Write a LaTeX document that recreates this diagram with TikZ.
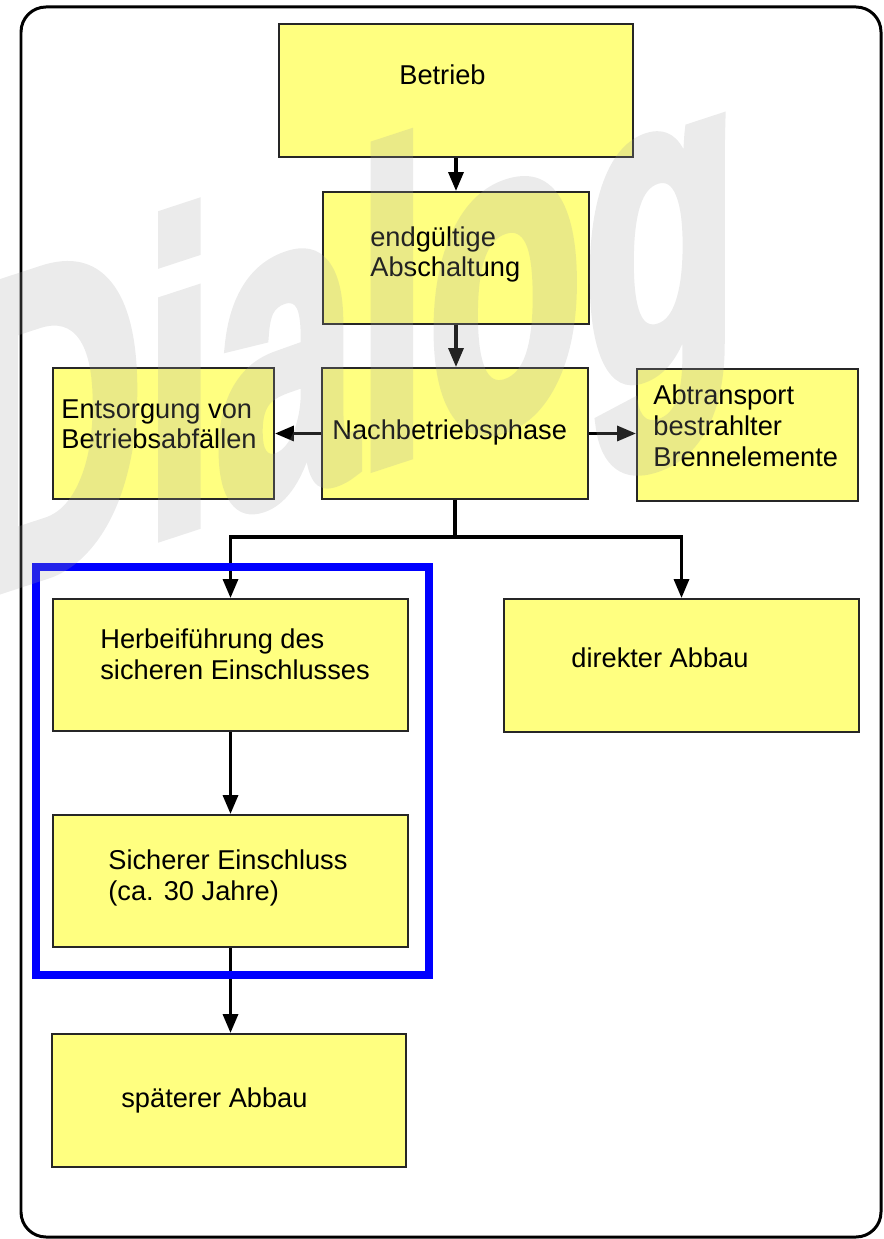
\documentclass[tikz,border=0pt]{standalone}
\usepackage{fontspec}
\setmainfont{Liberation Sans}
\newfontfamily\wasserfont{Liberation Sans Bold}[FakeBold=3]
\usetikzlibrary{arrows.meta,fit}
\definecolor{boxyellow}{RGB}{255,255,128}
\definecolor{rahmenblau}{RGB}{0,0,255}

\begin{document}
\begin{tikzpicture}[x=0.02cm,y=-0.02cm,
  box/.style={draw=black!85, line width=1.1pt, fill=boxyellow, inner sep=0pt},
  lbl/.style={anchor=base west, align=left, inner sep=0pt, font=\fontsize{15.5}{17.6}\selectfont},
  pfeil/.style={line width=1.9pt, -{Triangle[length=0.38cm,width=0.3cm]}}]
\useasboundingbox (0,0) rectangle (884,1239);
\clip (0,0) rectangle (884,1239);
\draw[line width=1.7pt, rounded corners=0.5cm] (21,7) rectangle (881,1237);

\node[box, fit={(279,24) (633,157)}] (betrieb) {};
\node[box, fit={(323,192) (589,324)}] (abschalt) {};
\node[box, fit={(322,368) (588,499)}] (nach) {};
\node[box, fit={(53,368) (274,499)}] (entsorg) {};
\node[box, fit={(637,369) (858,501)}] (abtrans) {};
\node[box, fit={(53,599) (408,731)}] (herbei) {};
\node[box, fit={(504,599) (859,732)}] (direkt) {};
\node[box, fit={(53,815) (408,947)}] (einschl) {};
\node[box, fit={(52,1034) (406,1167)}] (spaet) {};

% Texte (Grundlinie der letzten Zeile)
\node[lbl] at (399,85) {Betrieb};
\node[lbl] at (370,277) {endgültige\\Abschaltung};
\node[lbl] at (332,439) {Nachbetriebsphase};
\node[lbl] at (61,449) {Entsorgung von\\Betriebsabfällen};
\node[lbl] at (653,466) {Abtransport\\bestrahlter\\Brennelemente};
\node[lbl] at (100,679) {Herbeiführung des\\sicheren Einschlusses};
\node[lbl] at (571,667) {direkter Abbau};
\node[lbl] at (108,900) {Sicherer Einschluss\\(ca. 30 Jahre)};
\node[lbl] at (121,1107) {späterer Abbau};

\draw[pfeil] (betrieb) -- (abschalt);
\draw[pfeil] (abschalt.south) -- (abschalt.south |- nach.north);
\draw[pfeil] (nach.west) -- (entsorg.east);
\draw[pfeil] (nach.east) -- (nach.east -| abtrans.west);
\coordinate (gabel) at (455,537);
\draw[line width=1.9pt] (nach.south) -- (gabel);
\draw[pfeil] (gabel) -| (herbei.north);
\draw[pfeil] (gabel) -| (direkt.north);
\draw[pfeil] (herbei) -- (einschl);
\draw[pfeil] (einschl.south) -- (einschl.south |- spaet.north);

% blauer Rahmen
\draw[rahmenblau, line width=4.5pt] (36,567) rectangle (429,975);

% Wasserzeichen
\begin{scope}[transparency group, opacity=0.22]
\node[anchor=base west, inner sep=0pt, transform shape, xscale=0.58, yslant=0.19,
  text=black!36, font=\fontsize{250}{250}\selectfont\wasserfont]
  (wasserzeichen) at (-40,601) {Dialog};
\end{scope}
\end{tikzpicture}
\end{document}
